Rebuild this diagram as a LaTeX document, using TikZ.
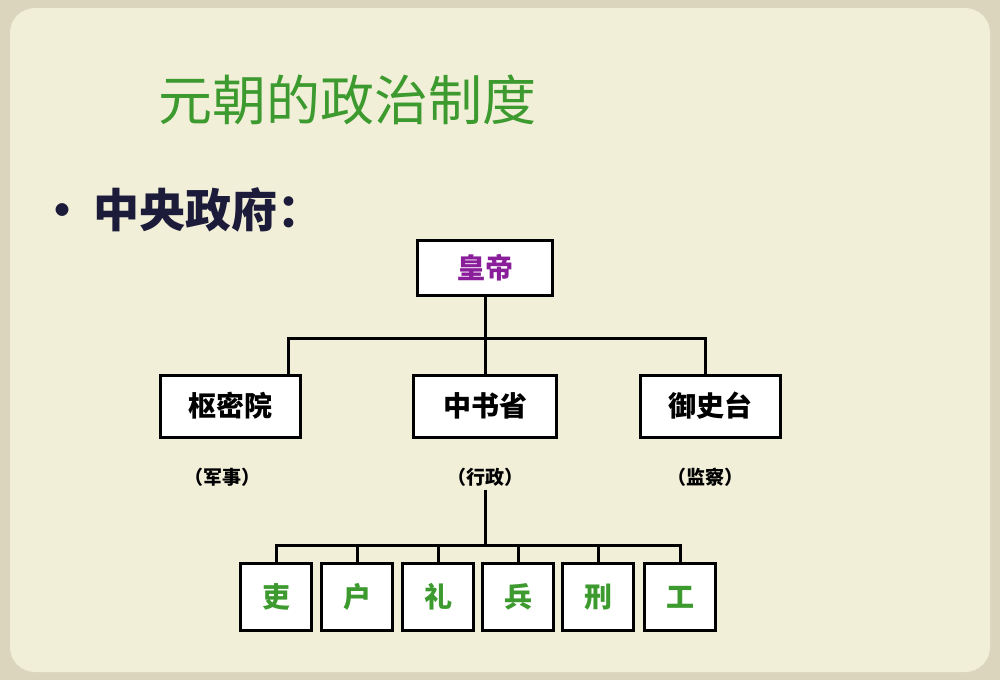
\documentclass[tikz,border=0pt]{standalone}
\usepackage{fontspec}
\newfontfamily\cjk{Noto Sans CJK SC}
\definecolor{bg}{HTML}{F2EFD9}
\definecolor{edge}{HTML}{DAD5BC}
\definecolor{tgreen}{HTML}{3C9A2E}
\definecolor{navy}{HTML}{1C1C3A}
\definecolor{purp}{HTML}{8A1E9A}
\begin{document}
\begin{tikzpicture}[x=1pt,y=-1pt,
  bx/.style={draw=black,line width=3pt,fill=white,inner sep=0pt,font=\cjk\bfseries\fontsize{28}{30}\selectfont},
  lab/.style={font=\cjk\bfseries\fontsize{19}{21}\selectfont,text=black},
  ln/.style={line width=3pt}]
\fill[edge] (0,0) rectangle (1000,680);
\fill[bg,rounded corners=25pt] (10,8) rectangle (990,672);
\useasboundingbox (0,0) rectangle (1000,680);
\node[font=\cjk\fontsize{54}{56}\selectfont,text=tgreen] (title) at (347,100) {元朝的政治制度};
\node[font=\cjk\bfseries\fontsize{46}{48}\selectfont,text=navy,anchor=west] (cg) at (36,210) {•\,中央政府：};
\node[bx,minimum width=135pt,minimum height=55pt,text=purp] (hd) at (485,268) {皇帝};
\node[bx,minimum width=140pt,minimum height=62pt] (smy) at (230,406) {枢密院};
\node[bx,minimum width=143pt,minimum height=62pt] (zsx) at (485,406) {中书省};
\node[bx,minimum width=140pt,minimum height=62pt] (yst) at (710,406) {御史台};
\node[lab] (l1) at (222,477) {（军事）};
\node[lab] (l2) at (485,477) {（行政）};
\node[lab] (l3) at (705,477) {（监察）};
\coordinate (h1) at (288,338); \coordinate (h2) at (705,338);
\draw[ln] (hd.south) -- (zsx.north);
\draw[ln] (smy.north -| h1) |- (h2) -- (yst.north -| h2);
\coordinate (d) at (485,545);
\draw[ln] (l2.south) -- (d);
\foreach \n/\t/\x in {a/吏/276,b/户/357,c/礼/438,e/兵/518,f/刑/598,g/工/680}{
  \node[bx,minimum width=71pt,minimum height=67pt,text=tgreen] (\n) at (\x,597) {\t};
}
\draw[ln] (a.north) |- (d) -| (g.north);
\foreach \n in {b,c,e,f}{\draw[ln] (\n.north) -- (\n.north |- d);}
\end{tikzpicture}
\end{document}
